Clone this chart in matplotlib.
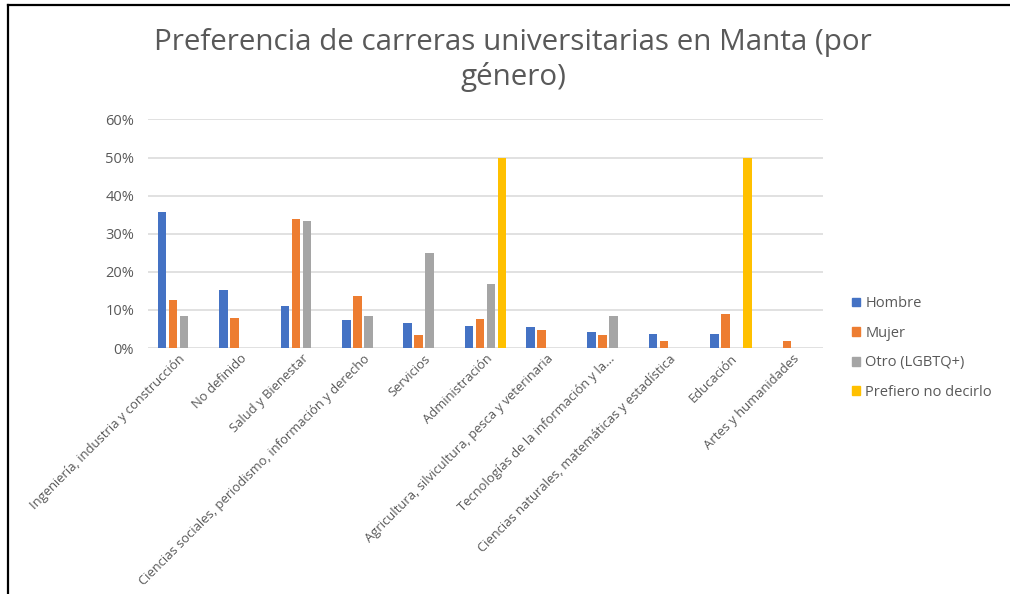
import numpy as np
import matplotlib
matplotlib.use("Agg")
import matplotlib.pyplot as plt
from matplotlib.patches import Rectangle
from matplotlib.lines import Line2D
from matplotlib.ticker import PercentFormatter

categories = [
    "Ingeniería, industria y construcción",
    "No definido",
    "Salud y Bienestar",
    "Ciencias sociales, periodismo, información y derecho",
    "Servicios",
    "Administración",
    "Agricultura, silvicultura, pesca y veterinaria",
    "Tecnologías de la información y la...",
    "Ciencias naturales, matemáticas y estadística",
    "Educación",
    "Artes y humanidades",
]
series_names = ["Hombre", "Mujer", "Otro (LGBTQ+)", "Prefiero no decirlo"]
nan = np.nan
hombre = [35.8, 15.1, 10.9, 7.3, 6.6, 5.9, 5.5, 4.2, 3.7, 3.7, nan]
mujer = [12.7, 8.0, 34.0, 13.6, 3.3, 7.6, 4.7, 3.3, 1.8, 8.9, 1.8]
otro = [8.3, nan, 33.3, 8.3, 25.0, 16.7, nan, 8.3, nan, nan, nan]
prefiero = [nan, nan, nan, nan, nan, 50.0, nan, nan, nan, 50.0, nan]
colors = ["#4472C4", "#ED7D31", "#A5A5A5", "#FFC000"]

text_color = "#595959"
font = "Open Sans"

fig = plt.figure(figsize=(10.10, 5.94), dpi=100)
ax = fig.add_axes([148 / 1010, (594 - 348) / 594, 675 / 1010, (348 - 119.5) / 594])

x = np.arange(len(categories))
pitch = 0.179
width = 0.139
data = [hombre, mujer, otro, prefiero]
for i, (vals, c) in enumerate(zip(data, colors)):
    ax.bar(x + (i - 1.5) * pitch, vals, width=width, color=c, zorder=3,
           label=series_names[i])

ax.set_xlim(-0.5, len(categories) - 0.5)
ax.set_ylim(0, 60)
ax.set_yticks(np.arange(0, 61, 10))
ax.yaxis.set_major_formatter(PercentFormatter(decimals=0))
ax.grid(axis="y", color="#D9D9D9", linewidth=1.1, zorder=0)
ax.set_axisbelow(True)
for s in ax.spines.values():
    s.set_visible(False)
ax.tick_params(axis="both", length=0, colors=text_color)
ax.tick_params(axis="y", pad=10, labelsize=10.5)
ax.set_xticks(x)
ax.set_xticklabels(categories, rotation=45, ha="right", rotation_mode="anchor",
                   fontsize=9.4, color=text_color, family=font)
ax.tick_params(axis="x", pad=3)
for lab in ax.get_yticklabels():
    lab.set_family(font)

fig.text(513 / 1010, 1 - 60 / 594,
         "Preferencia de carreras universitarias en Manta (por\ngénero)",
         ha="center", va="center", fontsize=21.3, color=text_color,
         family=font, linespacing=1.2)

handles = [Rectangle((0, 0), 1, 1, color=c) for c in colors]
leg = fig.legend(handles, series_names, loc="upper left",
                 bbox_to_anchor=(839 / 1010, 1 - 283 / 594), frameon=False,
                 handlelength=0.55, handleheight=0.55, handletextpad=0.35,
                 labelspacing=1.0, prop={"family": font, "size": 10.5})
for t in leg.get_texts():
    t.set_color(text_color)

# Outer frame (left and top edges visible in reference crop)
fig.add_artist(Line2D([8 / 1010, 8 / 1010], [0, 1 - 5 / 594],
                      transform=fig.transFigure, color="black", linewidth=1.6))
fig.add_artist(Line2D([8 / 1010, 1], [1 - 5 / 594, 1 - 5 / 594],
                      transform=fig.transFigure, color="black", linewidth=1.6))

fig.savefig("out.png", dpi=100)
